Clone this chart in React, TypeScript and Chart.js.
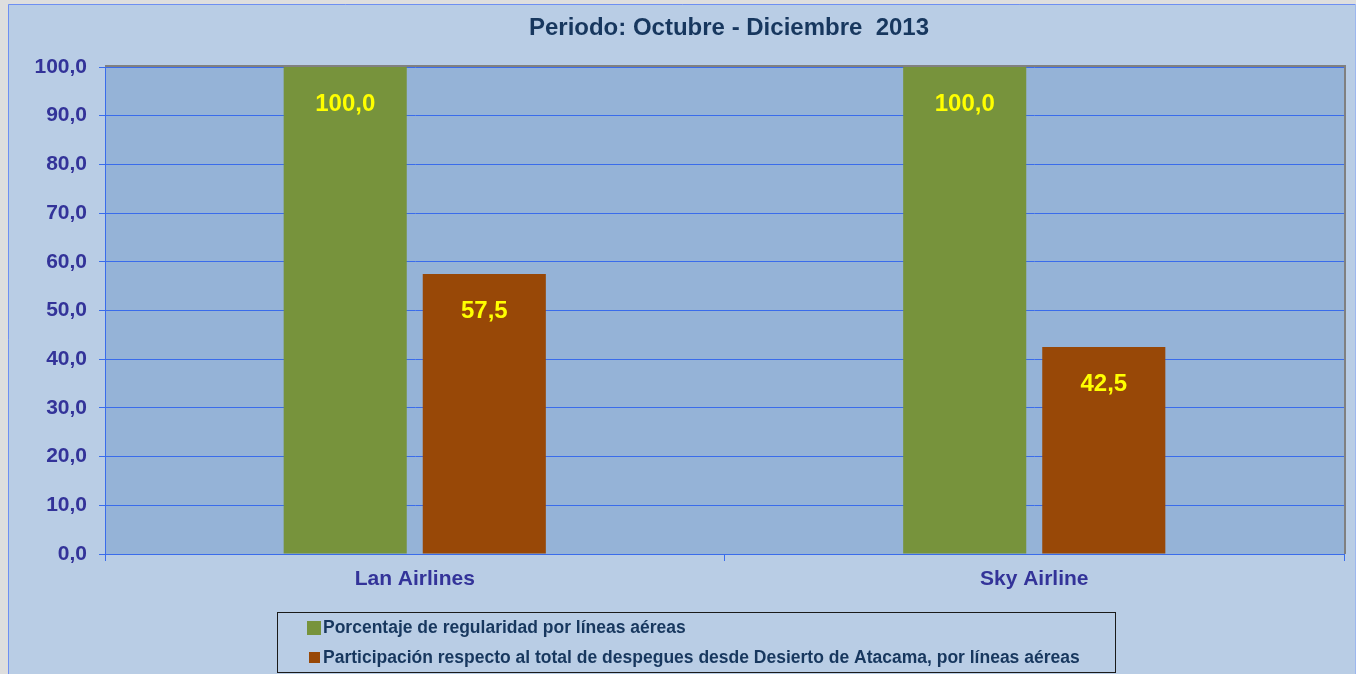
import React, { useEffect, useRef } from "react";
import { Chart, registerables } from "chart.js";

Chart.register(...registerables);

const title = "Periodo: Octubre - Diciembre  2013";
const categories = ["Lan Airlines", "Sky Airline"];
const seriesNames = [
  "Porcentaje de regularidad por líneas aéreas",
  "Participación respecto al total de despegues desde Desierto de Atacama, por líneas aéreas",
];
const regularidad = [100.0, 100.0];
const participacion = [57.5, 42.5];
const seriesColors = ["#77933C", "#984807"];

const FONT = "'Liberation Sans', Arial, Helvetica, sans-serif";
const fmt = (v: number) => v.toFixed(1).replace(".", ",");

const W = 1356;
const H = 674;
const GRID = "#3A6CEB";

const backgroundPlugin = {
  id: "bgPlugin",
  beforeDraw(chart: any) {
    const { ctx, chartArea } = chart;
    ctx.save();
    ctx.fillStyle = "#DEDEDE";
    ctx.fillRect(0, 0, W, H);
    ctx.fillStyle = "#B9CDE5";
    ctx.fillRect(8, 4, W - 8, H - 4);
    ctx.strokeStyle = "#6E8FF2";
    ctx.lineWidth = 1;
    ctx.beginPath();
    ctx.moveTo(8.5, H);
    ctx.lineTo(8.5, 4.5);
    ctx.lineTo(W, 4.5);
    ctx.stroke();
    ctx.strokeStyle = "#9DB7EE";
    ctx.beginPath();
    ctx.moveTo(W - 0.5, 4);
    ctx.lineTo(W - 0.5, H);
    ctx.stroke();
    // plot area
    ctx.fillStyle = "#95B3D7";
    ctx.fillRect(chartArea.left, chartArea.top, chartArea.right - chartArea.left, chartArea.bottom - chartArea.top);
    // title
    ctx.fillStyle = "#17375E";
    ctx.font = `bold 24px ${FONT}`;
    ctx.textAlign = "center";
    ctx.textBaseline = "alphabetic";
    ctx.fillText(title, 729, 35);
    ctx.restore();
  },
  afterDatasetsDraw(chart: any) {
    const { ctx, chartArea } = chart;
    ctx.save();
    // gray frame top/right
    ctx.strokeStyle = "#808080";
    ctx.lineWidth = 2;
    ctx.beginPath();
    ctx.moveTo(chartArea.left, chartArea.top - 1);
    ctx.lineTo(chartArea.right + 1, chartArea.top - 1);
    ctx.lineTo(chartArea.right + 1, chartArea.bottom);
    ctx.stroke();
    // data labels
    ctx.fillStyle = "#FFFF00";
    ctx.font = `bold 24px ${FONT}`;
    ctx.textAlign = "center";
    ctx.textBaseline = "middle";
    chart.data.datasets.forEach((ds: any, i: number) => {
      const meta = chart.getDatasetMeta(i);
      meta.data.forEach((bar: any, j: number) => {
        ctx.fillText(fmt(ds.data[j]), bar.x, bar.y + 37);
      });
    });
    // legend
    ctx.strokeStyle = "#1A1A1A";
    ctx.lineWidth = 1;
    ctx.strokeRect(277.5, 612.5, 838, 60);
    ctx.fillStyle = seriesColors[0];
    ctx.fillRect(307, 621, 14, 14);
    ctx.fillStyle = seriesColors[1];
    ctx.fillRect(309, 652, 11, 11);
    ctx.fillStyle = "#17375E";
    ctx.font = `bold 17.5px ${FONT}`;
    ctx.textAlign = "left";
    ctx.textBaseline = "middle";
    ctx.fillText(seriesNames[0], 323, 628);
    ctx.fillText(seriesNames[1], 323, 658);
    ctx.restore();
  },
};

export default function App() {
  const ref = useRef<HTMLCanvasElement>(null);
  useEffect(() => {
    if (!ref.current) return;
    const chart = new Chart(ref.current, {
      type: "bar",
      data: {
        labels: categories,
        datasets: [
          {
            label: seriesNames[0],
            data: regularidad,
            backgroundColor: seriesColors[0],
            categoryPercentage: 0.449,
            barPercentage: 0.885,
          },
          {
            label: seriesNames[1],
            data: participacion,
            backgroundColor: seriesColors[1],
            categoryPercentage: 0.449,
            barPercentage: 0.885,
          },
        ],
      },
      options: {
        responsive: false,
        animation: false,
        devicePixelRatio: 1,
        layout: { padding: { left: 0, right: 12, top: 67, bottom: 0 } },
        plugins: {
          legend: { display: false },
          title: { display: false },
          tooltip: { enabled: false },
        },
        scales: {
          x: {
            offset: true,
            grid: {
              offset: true,
              drawOnChartArea: false,
              drawTicks: true,
              tickLength: 7,
              color: GRID,
            },
            border: { color: GRID, width: 1 },
            ticks: {
              color: "#333399",
              font: { family: FONT, size: 21, weight: "bold" },
              padding: 6,
            },
            afterFit: (s: any) => {
              s.height = 120;
            },
          },
          y: {
            min: 0,
            max: 100,
            ticks: {
              stepSize: 10,
              color: "#333399",
              font: { family: FONT, size: 21, weight: "bold" },
              padding: 12,
              callback: (v: any) => fmt(Number(v)),
            },
            grid: { color: GRID, tickLength: 6, lineWidth: 1 },
            border: { color: GRID, width: 1 },
            afterFit: (s: any) => {
              s.width = 105;
            },
          },
        },
      },
      plugins: [backgroundPlugin],
    });
    return () => chart.destroy();
  }, []);
  return (
    <div style={{ position: "fixed", left: 0, top: 0, width: W, height: H, overflow: "hidden" }}>
      <canvas ref={ref} width={W} height={H} style={{ display: "block", width: W, height: H }} />
    </div>
  );
}
